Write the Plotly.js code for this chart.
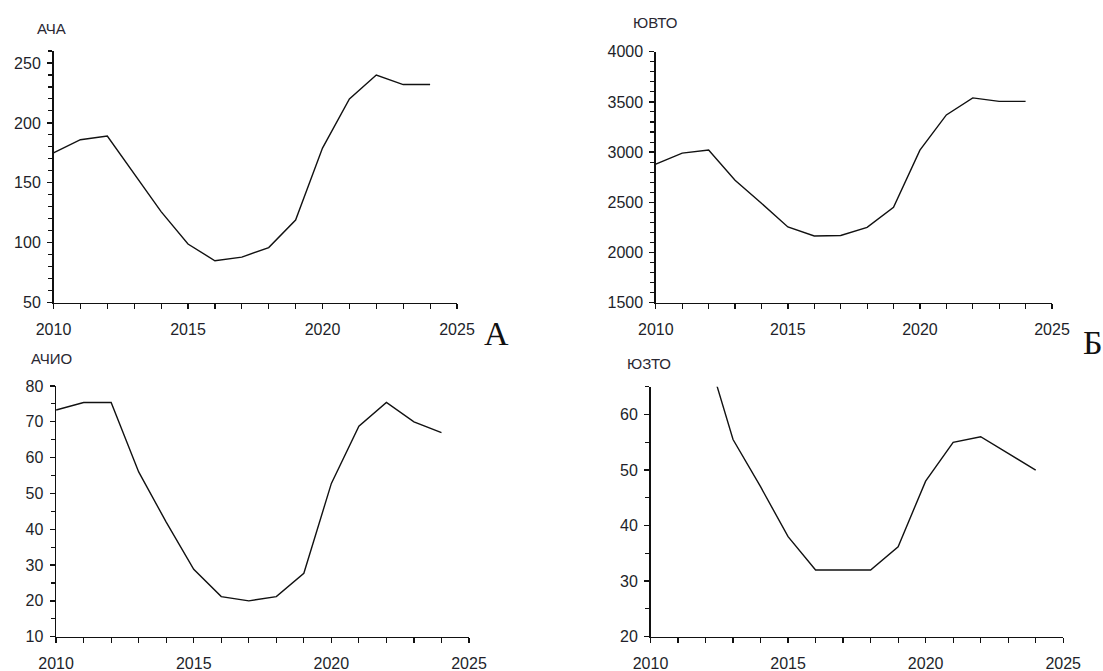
<!DOCTYPE html>
<html>
<head>
<meta charset="utf-8">
<script src="https://cdn.plot.ly/plotly-3.0.1.min.js"></script>
<style>html,body{margin:0;padding:0;background:#fff;}#chart{width:1103px;height:671px;}</style>
</head>
<body>
<div id="chart"></div>
<script>
// Data
const yearsFull = [2010,2011,2012,2013,2014,2015,2016,2017,2018,2019,2020,2021,2022,2023,2024];
const acha  = [175,186,189,157,126,99,85,88,96,119,179,220,240,232,232];
const yuvto = [2880,2990,3020,2720,2490,2255,2165,2170,2250,2450,3020,3370,3540,3505,3505];
const achio = [73.3,75.4,75.4,56,42,28.8,21.2,20,21.2,27.7,52.8,68.8,75.4,70,67];
const yearsYuzto = [2012,2013,2014,2015,2016,2017,2018,2019,2020,2021,2022,2023,2024];
const yuzto = [72,55.5,47,38,32,32,32,36.2,48,55,56,53,50];
const panelTitles = ["АЧА","ЮВТО","АЧИО","ЮЗТО"];
const panelLetters = ["А","Б"];

const W = 1103, H = 671;
const px = x => x / W;
const py = y => 1 - y / H;

const lineStyle = {color:'#111', width:1.4};
const traces = [
  {x: yearsFull, y: acha, xaxis:'x', yaxis:'y', mode:'lines', line:lineStyle},
  {x: yearsFull, y: yuvto, xaxis:'x2', yaxis:'y2', mode:'lines', line:lineStyle},
  {x: yearsFull, y: achio, xaxis:'x3', yaxis:'y3', mode:'lines', line:lineStyle},
  {x: yearsYuzto, y: yuzto, xaxis:'x4', yaxis:'y4', mode:'lines', line:lineStyle}
];

const tickFont = {family:'Liberation Sans, Arial, sans-serif', size:16, color:'#221f2a'};

function xax(l, r, anchor){
  return {
    domain:[px(l), px(r)], range:[2010,2025], anchor:anchor,
    showline:true, linecolor:'#111', linewidth:1.5, showgrid:false, zeroline:false,
    ticks:'outside', ticklen:5, tickwidth:1.3, tickcolor:'#111',
    tick0:2010, dtick:5, tickfont:tickFont, ticklabelstandoff:7,
    minor:{dtick:1, ticks:'outside', ticklen:5, tickwidth:1.2, tickcolor:'#111', showgrid:false},
    fixedrange:true
  };
}
function yax(top, bottom, range, dtick, mdtick, anchor){
  return {
    domain:[py(bottom), py(top)], range:range, anchor:anchor,
    showline:true, linecolor:'#111', linewidth:1.5, showgrid:false, zeroline:false,
    ticks:'outside', ticklen:5, tickwidth:1.3, tickcolor:'#111',
    tick0:range[0], dtick:dtick, tickfont:tickFont, ticklabelstandoff:3,
    minor:{dtick:mdtick, ticks:'outside', ticklen:4, tickwidth:1.1, tickcolor:'#111', showgrid:false},
    fixedrange:true
  };
}

const titleFont = {family:'Liberation Sans, Arial, sans-serif', size:15, color:'#2a2833'};
const letterFont = {family:'Liberation Serif, Times New Roman, serif', size:34, color:'#111'};

const annotations = [
  {text:panelTitles[0], x:px(51.5), y:py(28.5), font:titleFont},
  {text:panelTitles[1], x:px(654.5), y:py(22), font:titleFont},
  {text:panelTitles[2], x:px(51.5), y:py(358), font:titleFont},
  {text:panelTitles[3], x:px(649), y:py(363.5), font:titleFont},
  {text:panelLetters[0], x:px(496.5), y:py(333), font:letterFont},
  {text:panelLetters[1], x:px(1093), y:py(343), font:letterFont}
].map(a => Object.assign({xref:'paper', yref:'paper', showarrow:false, xanchor:'center', yanchor:'middle'}, a));

const layout = {
  width:W, height:H, margin:{l:0,r:0,t:0,b:0},
  paper_bgcolor:'#ffffff', plot_bgcolor:'#ffffff',
  showlegend:false,
  xaxis: xax(53.5, 457, 'y'),
  yaxis: yax(51, 302.7, [50,260], 50, 10, 'x'),
  xaxis2: xax(655.8, 1052, 'y2'),
  yaxis2: yax(51.7, 302.7, [1500,4000], 500, 100, 'x2'),
  xaxis3: xax(56.1, 469, 'y3'),
  yaxis3: yax(386, 636.7, [10,80], 10, 5, 'x3'),
  xaxis4: xax(650.5, 1063.2, 'y4'),
  yaxis4: yax(386.7, 636.7, [20,65], 10, 5, 'x4'),
  annotations: annotations
};

Plotly.newPlot('chart', traces, layout, {staticPlot:true, displayModeBar:false});
</script>
</body>
</html>
